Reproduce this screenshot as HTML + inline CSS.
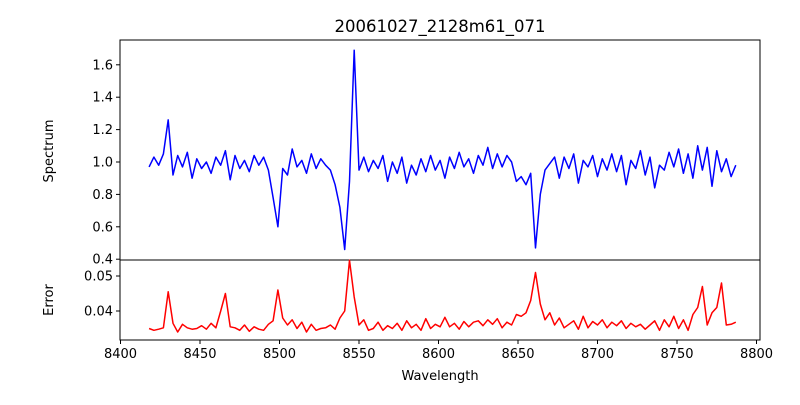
<!DOCTYPE html>
<html><head><meta charset="utf-8"><style>
body{margin:0;background:#fff}
svg text{font-family:"DejaVu Sans","Liberation Sans",sans-serif;fill:#000}
</style></head><body>
<svg id="chart" width="800" height="400" xmlns="http://www.w3.org/2000/svg">
<rect width="800" height="400" fill="#fff"/>
<text x="440" y="32" font-size="16.5" text-anchor="middle">20061027_2128m61_071</text>
<g id="g"></g>
</svg>
<script>
const startWave = 8418;
const stepWave = 3;
const spectrum = [0.97,1.03,0.98,1.05,1.26,0.92,1.04,0.97,1.06,0.90,1.02,0.96,1.00,0.93,1.03,0.98,1.07,0.89,1.04,0.96,1.01,0.94,1.04,0.98,1.03,0.95,0.78,0.60,0.96,0.92,1.08,0.97,1.01,0.93,1.05,0.96,1.02,0.98,0.95,0.86,0.72,0.46,0.88,1.69,0.95,1.03,0.94,1.01,0.96,1.04,0.88,1.00,0.93,1.03,0.87,0.98,0.92,1.02,0.94,1.04,0.95,1.01,0.90,1.03,0.96,1.06,0.97,1.02,0.93,1.04,0.98,1.09,0.96,1.05,0.97,1.04,1.00,0.88,0.91,0.86,0.93,0.47,0.80,0.95,0.99,1.03,0.90,1.03,0.96,1.05,0.87,1.01,0.97,1.04,0.91,1.02,0.95,1.05,0.94,1.04,0.86,1.01,0.96,1.07,0.92,1.03,0.84,0.98,0.95,1.06,0.97,1.08,0.93,1.05,0.90,1.10,0.95,1.09,0.85,1.07,0.94,1.02,0.91,0.98];
const errors = [.0350,.0345,.0348,.0352,.0455,.0365,.0340,.0362,.0352,.0348,.0350,.0358,.0348,.0365,.0352,.0400,.0450,.0355,.0352,.0345,.0360,.0342,.0355,.0348,.0345,.0362,.0372,.0460,.0380,.0360,.0375,.0350,.0368,.0340,.0362,.0345,.0350,.0352,.0360,.0348,.0380,.0400,.0545,.0440,.0360,.0375,.0345,.0350,.0368,.0345,.0358,.0350,.0365,.0345,.0372,.0352,.0362,.0345,.0378,.0350,.0362,.0355,.0382,.0355,.0365,.0348,.0370,.0355,.0368,.0372,.0358,.0375,.0362,.0378,.0352,.0368,.0360,.0390,.0385,.0395,.0430,.0510,.0420,.0375,.0395,.0360,.0380,.0352,.0362,.0372,.0348,.0385,.0352,.0370,.0360,.0375,.0352,.0368,.0358,.0372,.0350,.0365,.0355,.0362,.0348,.0360,.0372,.0345,.0375,.0355,.0385,.0350,.0375,.0345,.0390,.0410,.0470,.0360,.0395,.0410,.0480,.0360,.0362,.0368];
const xTicks = [8400,8450,8500,8550,8600,8650,8700,8750,8800];
const specTicks = [0.4,0.6,0.8,1.0,1.2,1.4,1.6];
const errTicks = [0.04,0.05];

const NS='http://www.w3.org/2000/svg';
const g=document.getElementById('g');
const L=120,R=760;
const X=v=>120.5+(v-8400)*(159/100);
const Ys=v=>162-(v-1.0)*162;
const Ye=v=>311-(v-0.04)*3500;
function mk(t,a){const e=document.createElementNS(NS,t);for(const k in a)e.setAttribute(k,a[k]);g.appendChild(e);return e;}
// axes frames
let e;
e=mk('rect',{x:L,y:40,width:R-L,height:220,fill:'none',stroke:'#000','stroke-width':1});


e=mk('rect',{x:L,y:260,width:R-L,height:80,fill:'none',stroke:'#000','stroke-width':1});


// series
const n=Math.min(spectrum.length,errors.length);
let ps='',pe='';
for(let i=0;i<spectrum.length;i++){const w=startWave+stepWave*i;ps+=(i?'L':'M')+X(w).toFixed(1)+' '+Ys(spectrum[i]).toFixed(1);}
for(let i=0;i<errors.length;i++){const w=startWave+stepWave*i;pe+=(i?'L':'M')+X(w).toFixed(1)+' '+Ye(errors[i]).toFixed(1);}
e=mk('path',{d:ps,fill:'none',stroke:'#0000ff','stroke-width':1.5,'stroke-linejoin':'round'});


e=mk('path',{d:pe,fill:'none',stroke:'#ff0000','stroke-width':1.5,'stroke-linejoin':'round'});


// x ticks
xTicks.forEach(v=>{const x=X(v);
 mk('line',{x1:x,x2:x,y1:340,y2:344,stroke:'#000'});
 e=mk('text',{x:x,y:358,'font-size':13,'text-anchor':'middle'});e.textContent=v;
 
 
});
specTicks.forEach(v=>{const y=Ys(v);
 mk('line',{x1:116,x2:120,y1:y,y2:y,stroke:'#000'});
 e=mk('text',{x:113,y:y+4.5,'font-size':13,'text-anchor':'end'});e.textContent=v.toFixed(1);
 
 
});
errTicks.forEach(v=>{const y=Ye(v);
 mk('line',{x1:116,x2:120,y1:y,y2:y,stroke:'#000'});
 e=mk('text',{x:113,y:y+4.5,'font-size':13,'text-anchor':'end'});e.textContent=v.toFixed(2);
 
 
});
e=mk('text',{x:440,y:380,'font-size':13,'text-anchor':'middle'});e.textContent='Wavelength';


e=mk('text',{x:0,y:0,'font-size':13,'text-anchor':'middle',transform:'translate(53,151) rotate(-90)'});e.textContent='Spectrum';


e=mk('text',{x:0,y:0,'font-size':13,'text-anchor':'middle',transform:'translate(53,300) rotate(-90)'});e.textContent='Error';


</script>
</body></html>
